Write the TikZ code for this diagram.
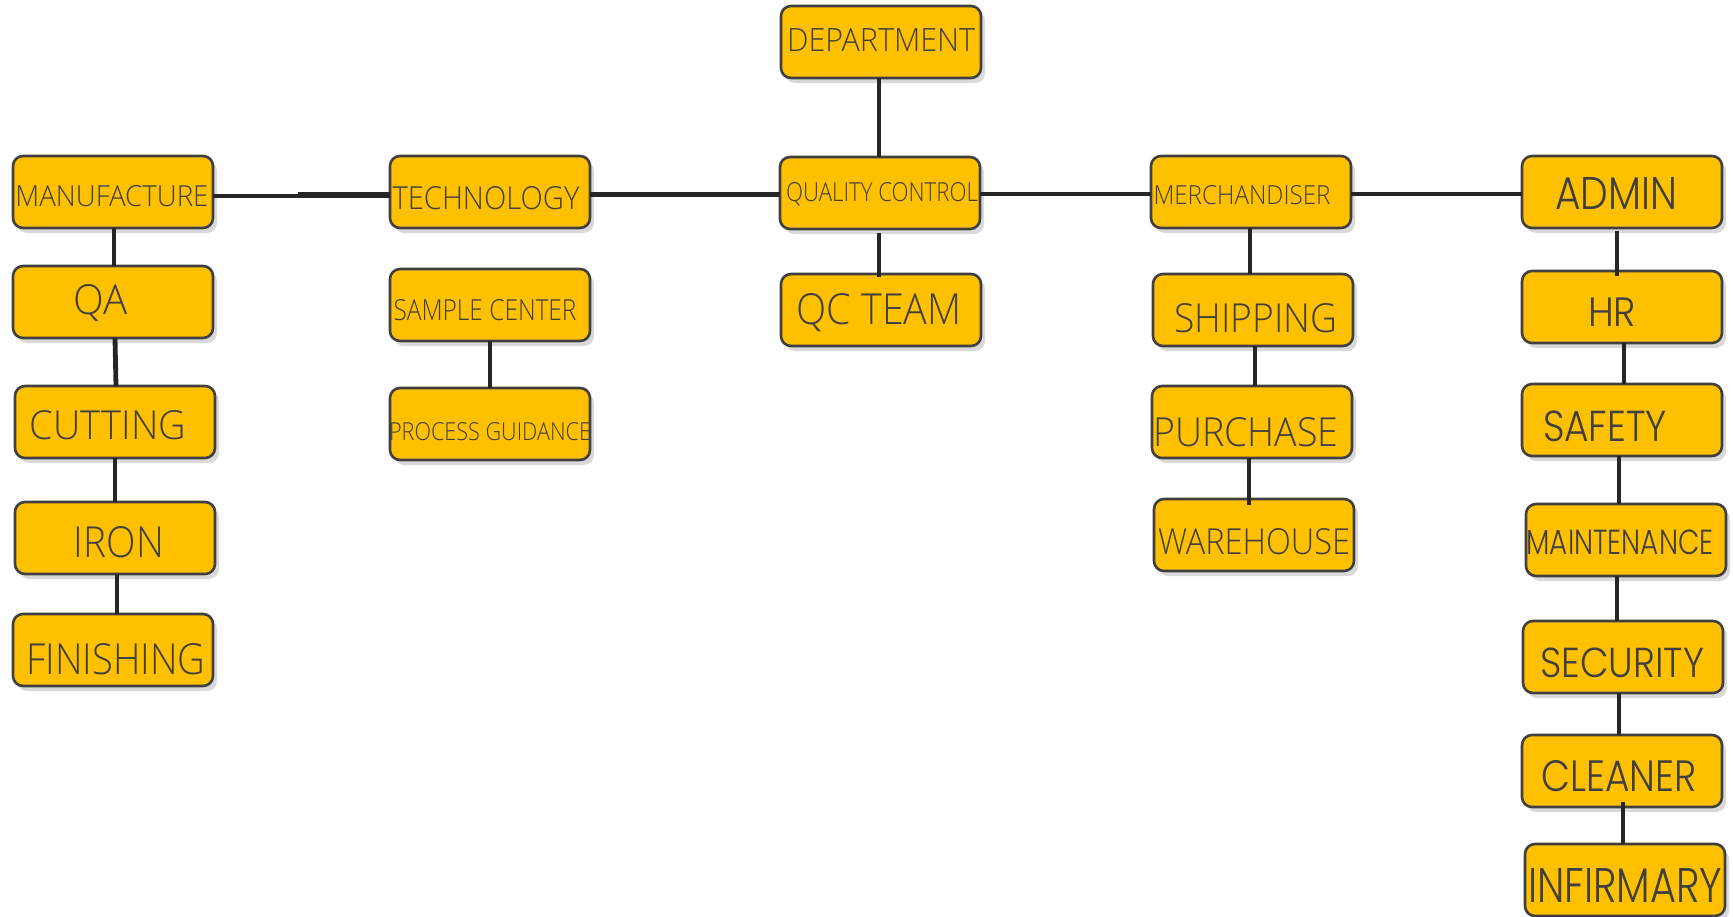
\documentclass[tikz,border=0pt]{standalone}
\usepackage{fontspec}
\IfFontExistsTF{Open Sans Light}{\setmainfont{Open Sans Light}}{\setmainfont{Open Sans}}
\IfFontExistsTF{Poppins Light}{\newfontfamily\gfont{Poppins Light}}{\newfontfamily\gfont{Poppins}}
\usetikzlibrary{shadows,calc}
\definecolor{gold}{HTML}{FFC000}
\definecolor{edgegray}{HTML}{404040}
\definecolor{ink}{HTML}{3F3F3F}
\definecolor{wire}{HTML}{262626}
\tikzset{
  box/.style={draw=edgegray, line width=1.3pt, fill=gold, rounded corners=5pt,
    minimum width=100pt, minimum height=36pt, inner sep=0pt, outer sep=0pt,
    drop shadow={shadow xshift=2pt, shadow yshift=-2.5pt, opacity=0.25, fill=black!60}},
  lbl/.style={inner sep=0pt, text=ink},
  conn/.style={draw=wire, line width=2.4pt},
}
\newcommand\orgbox[8]{%
  \node[box] (#1) at (#2,#3) {};
  \node[lbl] (#1t) at (#4,#5) {\resizebox{#6pt}{#7pt}{#8}};}
\begin{document}
\begin{tikzpicture}[x=0.5pt,y=-0.5pt]
\useasboundingbox (0,0) rectangle (1733,916);
\orgbox{dept}{881}{42}{881}{40}{94}{11.5}{DEPARTMENT}
\orgbox{manu}{113}{192}{112}{196}{96.5}{10.5}{MANUFACTURE}
\orgbox{tech}{490}{192}{486}{198}{93.5}{11.5}{TECHNOLOGY}
\orgbox{qc}{880}{193}{882}{194}{96}{9.5}{QUALITY CONTROL}
\orgbox{merch}{1251}{192}{1242}{195}{88.5}{9.5}{MERCHANDISER}
\orgbox{admin}{1622}{192}{1616}{193}{61}{16}{\gfont ADMIN}
\orgbox{qa}{113}{302}{101}{303}{27}{15}{QA}
\orgbox{cut}{115}{422}{108}{425}{78}{14.5}{CUTTING}
\orgbox{iron}{115}{538}{119}{542}{45}{15.5}{IRON}
\orgbox{fin}{113}{650}{116}{659}{89.5}{15.5}{FINISHING}
\orgbox{samp}{490}{305}{485}{310}{91.5}{10.5}{SAMPLE CENTER}
\orgbox{proc}{490}{424}{490}{432}{101}{9}{PROCESS GUIDANCE}
\orgbox{qct}{881}{310}{879}{313}{82.5}{15.5}{QC TEAM}
\orgbox{ship}{1253}{310}{1256}{318}{81.5}{14.5}{SHIPPING}
\orgbox{purch}{1252}{422}{1246}{432}{92.5}{14.5}{PURCHASE}
\orgbox{ware}{1254}{535}{1254}{542}{96}{13}{WAREHOUSE}
\orgbox{hr}{1622}{307}{1612}{312}{24}{14.3}{\gfont HR}
\orgbox{safe}{1622}{420}{1605}{426}{62}{15.3}{\gfont SAFETY}
\orgbox{maint}{1626}{540}{1620}{542}{93.5}{12.3}{\gfont MAINTENANCE}
\orgbox{sec}{1623}{657}{1622}{663}{82}{14.8}{\gfont SECURITY}
\orgbox{clean}{1622}{771}{1619}{776}{77.5}{15.5}{\gfont CLEANER}
\orgbox{inf}{1625}{880}{1625}{885}{97}{17}{\gfont INFIRMARY}
% horizontal connectors
\coordinate (mt) at (298,195);
\draw[conn] ($(manu.east)+(0,4)$) -- ($(mt)+(0,1)$);
\draw[conn, line width=3.4pt] (mt) -- (mt -| tech.west);
\draw[conn] ($(tech.east)+(0,2.5)$) -- ($(qc.west)+(0,1.5)$);
\draw[conn] ($(qc.east)+(0,1)$) -- ($(merch.west)+(0,2)$);
\draw[conn] ($(merch.east)+(0,2)$) -- ($(admin.west)+(0,2)$);
% vertical connectors
\draw[conn] ($(dept.south)+(-2,0)$) -- ($(qc.north)+(-1,0)$);
\draw[conn] ($(qc.south)+(-1,4)$) -- ($(qct.north)+(-2,3)$);
\draw[conn] ($(manu.south)+(1,0)$) -- ($(qa.north)+(1,0)$);
\draw[conn] ($(qa.south)+(2,0)$) -- ($(cut.north)+(1,0)$);
\draw[conn] (cut.south) -- (iron.north);
\draw[conn] ($(iron.south)+(2,0)$) -- ($(fin.north)+(4,0)$);
\draw[conn] (samp.south) -- (proc.north);
\draw[conn] ($(merch.south)+(-1,0)$) -- ($(ship.north)+(-3,0)$);
\draw[conn] ($(ship.south)+(2,0)$) -- ($(purch.north)+(3,0)$);
\draw[conn] ($(purch.south)+(-3,0)$) -- ($(ware.north)+(-5,6)$);
\draw[conn] ($(admin.south)+(-5,3)$) -- ($(hr.north)+(-5,5)$);
\draw[conn] ($(hr.south)+(2,0)$) -- ($(safe.north)+(2,0)$);
\draw[conn] ($(safe.south)+(-3,0)$) -- ($(maint.north)+(-7,0)$);
\draw[conn] ($(maint.south)+(-9,0)$) -- ($(sec.north)+(-6,0)$);
\draw[conn] ($(sec.south)+(-4,0)$) -- ($(clean.north)+(-3,0)$);
\draw[conn] ($(clean.south)+(1,-5)$) -- ($(inf.north)+(-2,0)$);
\end{tikzpicture}
\end{document}
